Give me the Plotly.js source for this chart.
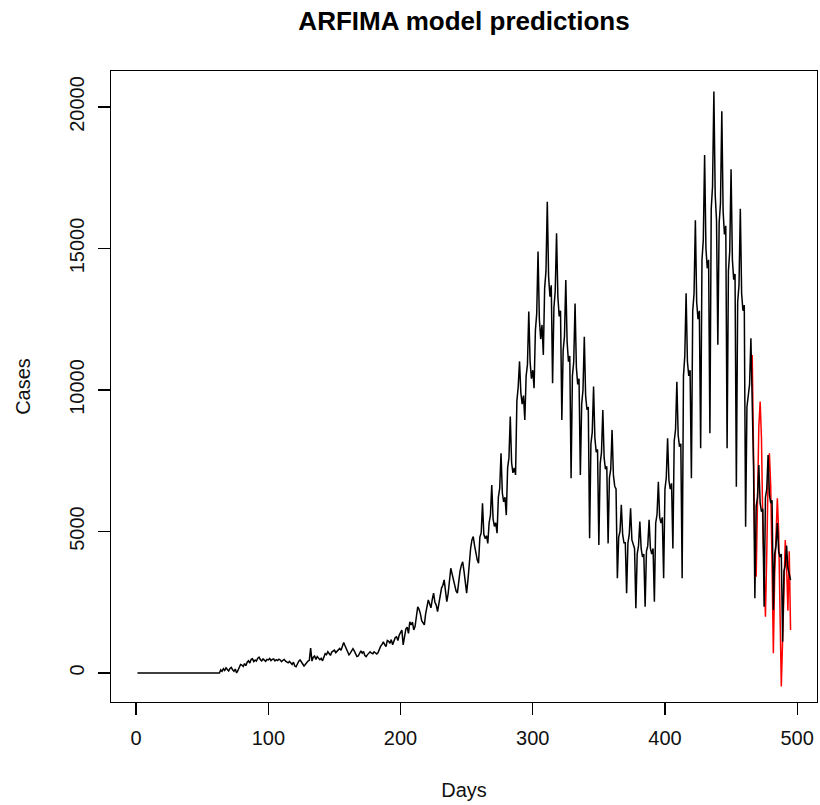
<!DOCTYPE html>
<html>
<head>
<meta charset="utf-8">
<script src="https://cdn.plot.ly/plotly-3.0.1.min.js"></script>
<style>
html,body{margin:0;padding:0;background:#fff;}
#chart{width:820px;height:805px;}
</style>
</head>
<body>
<div id="chart"></div>
<script>
// Daily cases, day 1..495 (black: observed)
const cases = [
0,0,0,0,0,0,0,
0,0,0,0,0,0,0,
0,0,0,0,0,0,0,
0,0,0,0,0,0,0,
0,0,0,0,0,0,0,
0,0,0,0,0,0,0,
0,0,0,0,0,0,0,
0,0,0,0,0,0,0,
0,0,0,0,0,0,0,
110,60,150,90,180,120,70,
160,200,110,60,140,0,90,
210,300,280,230,330,260,380,
430,350,480,500,400,460,420,
520,560,470,430,500,450,410,
480,460,510,440,480,500,430,
470,440,490,460,400,450,480,
420,400,360,410,340,300,380,
250,220,330,420,460,400,330,
250,300,380,420,450,880,420,
560,600,480,580,540,470,520,
430,560,680,650,750,690,620,
740,790,810,720,780,850,870,
800,960,1080,960,860,720,640,
700,800,860,780,640,580,600,
720,780,700,760,620,580,650,
720,750,700,680,750,720,670,
720,850,950,1010,1100,1000,930,
1150,1120,1050,1180,1000,1100,1250,
1280,1150,1340,1450,1520,990,1300,
1550,1620,1400,1810,1700,1800,1520,
1650,1950,2340,2250,2100,1850,1750,
1700,2100,2350,2580,2450,2300,2600,
2820,2500,2400,2170,2500,2800,3000,
3100,3290,2900,2520,2800,3400,3700,
3500,3300,3100,2900,2820,3300,3600,
3800,3930,3600,3200,2820,3300,3900,
4400,4700,4820,4500,4200,4000,3880,
4800,4950,6000,4900,4750,4850,4580,
5310,5580,6640,5440,5180,5310,4940,
6210,6520,7760,6360,6050,6210,5580,
7250,7610,9060,7430,7070,7250,7000,
9600,10120,11010,9900,9500,9800,8940,
10500,10900,12770,11000,10400,10700,10060,
12100,12700,14890,12500,11800,12300,11240,
13600,14200,16650,14000,13300,13700,10240,
12900,13500,15540,13300,12600,12800,8940,
11400,11900,13890,11700,11000,11200,6880,
10500,11000,13060,10800,10200,10400,7000,
9500,10000,11880,9800,9300,9400,4760,
8100,8500,10120,8300,7800,7900,4520,
7400,7800,9290,7600,7200,7300,4580,
6900,7200,8590,7000,6600,6500,3350,
4800,5000,5940,4900,4600,4600,2820,
4600,4900,5820,4700,4500,4400,2290,
4200,4500,5350,4400,4100,4200,2340,
4300,4500,5410,4400,4200,4400,2520,
5300,5600,6760,5500,5300,5500,3350,
6500,6900,8290,6800,6500,6700,4400,
8200,8600,10290,8400,8000,8100,3350,
10500,11200,13420,11000,10500,10700,6880,
12800,13400,16000,13100,12500,12800,7940,
14600,15300,18300,15000,14300,14600,8470,
16400,17200,20550,16900,16000,11600,15900,
16600,19850,16300,15500,15800,7940,14200,
14900,17800,14600,13900,14100,6580,13100,
13700,16400,13400,12800,13000,5170,9400,
9900,10200,11830,9500,7300,2640,5900,
6200,7350,6000,5700,5800,2340,6200,
6500,7700,6300,6000,6100,2230,4200,
4500,5300,4300,4100,4200,1100,3600,
3800,4500,3700,3500,3290
];
const firstDay = 1;

// ARFIMA predictions (red), starting at day 466
const predStartDay = 466;
const predicted = [
11240,6700,4300,3400,5600,8700,9590,
8300,5300,3000,1990,4200,6900,7760,
6600,3800,700,3500,5200,6170,5000,
2200,-480,1200,3300,4700,3800,2200,
4300,1520
];

const xTicks = [0,100,200,300,400,500];
const yTicks = [0,5000,10000,15000,20000];
const yTickText = ["0","5000","10000","15000","20000"];

const days = cases.map((_, i) => firstDay + i);
const predDays = predicted.map((_, i) => predStartDay + i);

const font = "'Liberation Sans', Arial, Helvetica, sans-serif";

const traces = [
  {x: predDays, y: predicted, type: 'scatter', mode: 'lines',
   line: {color: '#ff0000', width: 1.5}, hoverinfo: 'skip'},
  {x: days, y: cases, type: 'scatter', mode: 'lines',
   line: {color: '#000000', width: 1.5}, hoverinfo: 'skip'}
];

const layout = {
  width: 820, height: 805,
  margin: {l: 111, r: 3, t: 71, b: 103, pad: 0},
  paper_bgcolor: '#ffffff', plot_bgcolor: '#ffffff',
  showlegend: false,
  font: {family: font, color: '#000', size: 20},
  title: {text: '<b>ARFIMA model predictions</b>', font: {family: font, size: 26, color: '#000'},
          x: 0.5, xref: 'paper', y: 1 - 21/805, yref: 'container', yanchor: 'middle'},
  xaxis: {
    range: [-19, 515], autorange: false,
    showline: true, mirror: true, linecolor: '#000', linewidth: 1.3,
    showgrid: false, zeroline: false,
    ticks: 'outside', ticklen: 12, tickwidth: 1.3, tickcolor: '#000',
    tickmode: 'array', tickvals: xTicks, ticktext: xTicks.map(String),
    tickfont: {family: font, size: 20, color: '#111'},
    ticklabelstandoff: 6,
    title: {text: 'Days', font: {family: font, size: 20, color: '#111'}, standoff: 34},
    automargin: false
  },
  yaxis: {
    range: [-1025, 21272], autorange: false,
    showline: true, mirror: true, linecolor: '#000', linewidth: 1.3,
    showgrid: false, zeroline: false,
    ticks: 'outside', ticklen: 12, tickwidth: 1.3, tickcolor: '#000',
    tickmode: 'array', tickvals: yTicks, ticktext: yTickText,
    tickangle: -90,
    tickfont: {family: font, size: 20, color: '#111'},
    ticklabelstandoff: 6,
    title: {text: 'Cases', font: {family: font, size: 20, color: '#111'}, standoff: 29},
    automargin: false
  }
};

Plotly.newPlot('chart', traces, layout, {staticPlot: true, displayModeBar: false});
</script>
</body>
</html>
